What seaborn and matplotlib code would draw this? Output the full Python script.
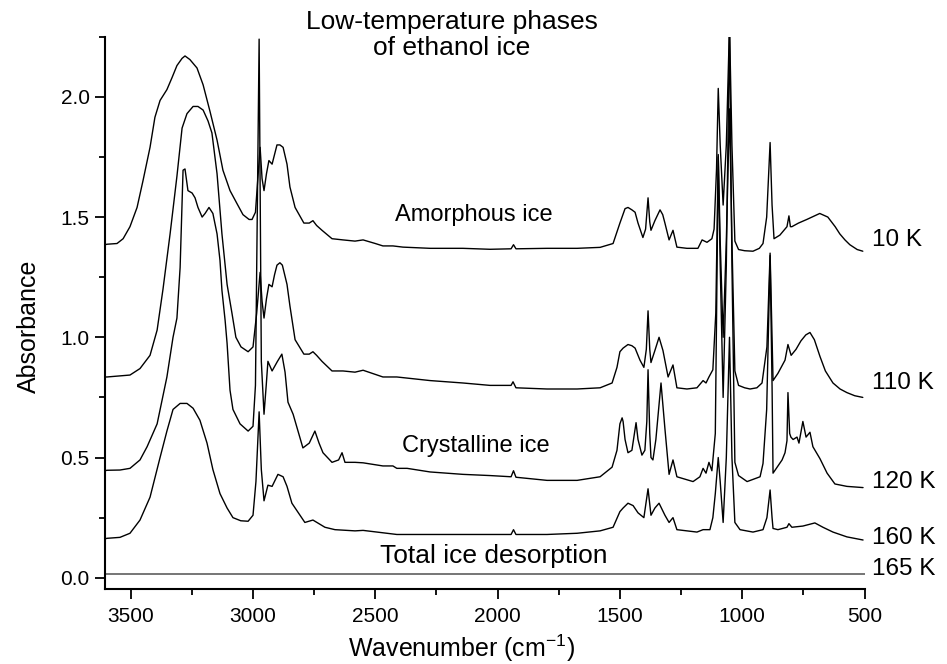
import matplotlib
matplotlib.use("Agg")
import matplotlib.pyplot as plt
from matplotlib import transforms
import numpy as np
import pandas as pd
import seaborn as sns

# ---------------- data (wavenumber in cm^-1, absorbance) ----------------
w_10K = [3605, 3597, 3556, 3531, 3503, 3474, 3450, 3421, 3401, 3380, 3352, 3331, 3311, 3290, 3278,
         3258, 3229, 3204, 3176, 3147, 3123, 3094, 3065, 3041, 3016, 3004, 2990, 2981, 2971, 2963,
         2955, 2945, 2935, 2922, 2912, 2902, 2890, 2877, 2861, 2849, 2828, 2792, 2770, 2755, 2740,
         2718, 2677, 2632, 2583, 2550, 2500, 2469, 2428, 2387, 2276, 2142, 2031, 1945, 1935, 1925,
         1798, 1675, 1581, 1528, 1500, 1479, 1467, 1451, 1438, 1426, 1406, 1395, 1385, 1378, 1373,
         1357, 1336, 1325, 1316, 1299, 1283, 1267, 1226, 1181, 1164, 1144, 1124, 1115, 1105, 1098,
         1090, 1078, 1065, 1052, 1042, 1030, 1015, 990, 956, 930, 915, 900, 886, 878, 870,
         846, 817, 809, 803, 797, 770, 736, 683, 650, 620, 601, 580, 560, 530, 507]
a_10K = [1.385, 1.387, 1.39, 1.41, 1.46, 1.54, 1.65, 1.79, 1.915, 1.985, 2.03, 2.08, 2.13, 2.16, 2.17,
         2.155, 2.12, 2.05, 1.94, 1.82, 1.695, 1.61, 1.555, 1.51, 1.49, 1.49, 1.52, 1.65, 1.79, 1.66,
         1.61, 1.68, 1.735, 1.72, 1.76, 1.80, 1.80, 1.79, 1.72, 1.625, 1.54, 1.475, 1.475, 1.485, 1.465,
         1.445, 1.41, 1.405, 1.40, 1.405, 1.39, 1.38, 1.38, 1.375, 1.37, 1.37, 1.366, 1.368, 1.385, 1.368,
         1.37, 1.37, 1.374, 1.39, 1.475, 1.535, 1.54, 1.53, 1.52, 1.475, 1.415, 1.45, 1.58, 1.48, 1.445,
         1.485, 1.53, 1.51, 1.475, 1.405, 1.445, 1.375, 1.37, 1.37, 1.405, 1.395, 1.41, 1.45, 1.70, 2.035,
         1.80, 1.55, 1.80, 2.30, 1.80, 1.40, 1.365, 1.36, 1.358, 1.37, 1.39, 1.50, 1.81, 1.55, 1.41,
         1.425, 1.46, 1.505, 1.46, 1.46, 1.475, 1.49, 1.515, 1.50, 1.46, 1.43, 1.405, 1.385, 1.365, 1.358]

w_110K = [3605, 3597, 3503, 3462, 3421, 3392, 3368, 3339, 3311, 3290, 3270, 3245, 3225, 3204, 3184,
          3168, 3147, 3127, 3106, 3086, 3070, 3049, 3020, 3000, 2985, 2971, 2963, 2955, 2945, 2935,
          2922, 2912, 2902, 2890, 2880, 2861, 2849, 2828, 2792, 2770, 2755, 2740, 2718, 2677, 2632,
          2583, 2550, 2469, 2412, 2276, 2142, 2031, 1945, 1937, 1925, 1798, 1675, 1581, 1532, 1512,
          1500, 1487, 1467, 1451, 1438, 1418, 1402, 1392, 1385, 1378, 1373, 1357, 1340, 1324, 1303,
          1283, 1267, 1226, 1185, 1160, 1148, 1136, 1120, 1108, 1098, 1090, 1078, 1065, 1052, 1042,
          1030, 1015, 990, 968, 940, 919, 899, 886, 878, 874, 854, 825, 813, 800, 780,
          760, 740, 723, 705, 682, 660, 629, 600, 572, 540, 507]
a_110K = [0.835, 0.835, 0.843, 0.87, 0.925, 1.03, 1.20, 1.43, 1.67, 1.87, 1.93, 1.96, 1.96, 1.945, 1.90,
          1.85, 1.68, 1.43, 1.22, 1.10, 1.00, 0.96, 0.94, 0.96, 1.10, 1.27, 1.15, 1.08, 1.16, 1.22,
          1.21, 1.26, 1.30, 1.31, 1.30, 1.22, 1.13, 0.99, 0.93, 0.93, 0.94, 0.925, 0.90, 0.86, 0.86,
          0.855, 0.863, 0.835, 0.835, 0.82, 0.81, 0.80, 0.80, 0.815, 0.79, 0.785, 0.785, 0.79, 0.81, 0.875,
          0.94, 0.955, 0.97, 0.965, 0.955, 0.905, 0.875, 0.95, 1.11, 0.95, 0.895, 0.945, 1.00, 0.945, 0.835,
          0.885, 0.79, 0.785, 0.79, 0.82, 0.81, 0.835, 0.865, 1.10, 1.76, 1.40, 1.00, 1.40, 1.95, 1.40,
          0.86, 0.80, 0.79, 0.785, 0.79, 0.81, 0.96, 1.35, 1.00, 0.82, 0.85, 0.905, 0.97, 0.925, 0.95,
          0.985, 1.01, 1.02, 0.99, 0.92, 0.86, 0.81, 0.785, 0.77, 0.757, 0.75]

w_120K = [3605, 3597, 3544, 3503, 3462, 3433, 3392, 3352, 3327, 3311, 3298, 3290, 3286, 3278, 3266,
          3249, 3237, 3225, 3208, 3196, 3180, 3164, 3147, 3135, 3127, 3114, 3106, 3094, 3082, 3053,
          3020, 3000, 2990, 2975, 2966, 2955, 2946, 2939, 2922, 2900, 2882, 2869, 2857, 2836, 2796,
          2770, 2747, 2730, 2714, 2677, 2650, 2636, 2624, 2583, 2550, 2469, 2428, 2412, 2370, 2276,
          2142, 2031, 1945, 1935, 1925, 1798, 1675, 1581, 1532, 1512, 1500, 1491, 1487, 1479, 1467,
          1451, 1434, 1426, 1410, 1398, 1390, 1385, 1378, 1373, 1365, 1353, 1332, 1316, 1299, 1283,
          1267, 1201, 1173, 1160, 1148, 1136, 1124, 1110, 1098, 1090, 1078, 1065, 1052, 1042, 1030,
          1015, 980, 927, 915, 900, 886, 878, 874, 837, 825, 817, 813, 806, 801, 792,
          776, 768, 752, 739, 723, 711, 682, 653, 621, 572, 506]
a_120K = [0.445, 0.447, 0.448, 0.455, 0.49, 0.545, 0.64, 0.835, 1.00, 1.08, 1.29, 1.57, 1.695, 1.70, 1.61,
          1.60, 1.58, 1.54, 1.50, 1.515, 1.54, 1.515, 1.43, 1.32, 1.195, 1.07, 0.975, 0.78, 0.70, 0.64,
          0.61, 0.63, 0.80, 2.24, 0.90, 0.68, 0.80, 0.90, 0.86, 0.90, 0.93, 0.855, 0.73, 0.68, 0.54,
          0.56, 0.61, 0.56, 0.52, 0.48, 0.49, 0.52, 0.48, 0.48, 0.478, 0.465, 0.465, 0.455, 0.455, 0.44,
          0.43, 0.425, 0.42, 0.445, 0.418, 0.405, 0.405, 0.42, 0.46, 0.53, 0.64, 0.665, 0.65, 0.575, 0.52,
          0.53, 0.645, 0.575, 0.51, 0.53, 0.65, 0.865, 0.60, 0.50, 0.49, 0.575, 0.81, 0.62, 0.43, 0.49,
          0.42, 0.40, 0.42, 0.455, 0.435, 0.48, 0.445, 0.60, 1.75, 1.30, 0.75, 1.30, 2.30, 1.30, 0.48,
          0.425, 0.40, 0.42, 0.475, 0.70, 1.34, 0.80, 0.435, 0.49, 0.52, 0.57, 0.77, 0.60, 0.585, 0.575,
          0.585, 0.56, 0.65, 0.585, 0.605, 0.545, 0.495, 0.435, 0.39, 0.38, 0.375]

w_160K = [3605, 3597, 3544, 3503, 3462, 3421, 3380, 3352, 3327, 3298, 3270, 3245, 3217, 3188, 3164,
          3135, 3106, 3082, 3050, 3020, 3000, 2988, 2975, 2966, 2955, 2939, 2922, 2898, 2877, 2861,
          2841, 2788, 2755, 2706, 2665, 2583, 2550, 2412, 2276, 2142, 2031, 1945, 1935, 1925, 1798,
          1675, 1581, 1528, 1500, 1487, 1467, 1446, 1426, 1402, 1385, 1373, 1357, 1340, 1316, 1299,
          1283, 1267, 1185, 1160, 1132, 1120, 1110, 1098, 1090, 1078, 1065, 1052, 1042, 1030, 1009,
          956, 915, 899, 886, 878, 874, 854, 817, 809, 797, 752, 703, 670, 629, 572, 506]
a_160K = [0.162, 0.164, 0.168, 0.185, 0.24, 0.335, 0.50, 0.61, 0.70, 0.725, 0.725, 0.705, 0.655, 0.56, 0.45,
          0.35, 0.29, 0.25, 0.237, 0.235, 0.26, 0.40, 0.69, 0.45, 0.32, 0.385, 0.38, 0.43, 0.42, 0.38,
          0.31, 0.23, 0.24, 0.21, 0.20, 0.195, 0.197, 0.18, 0.18, 0.18, 0.18, 0.18, 0.20, 0.18, 0.18,
          0.185, 0.195, 0.21, 0.275, 0.29, 0.31, 0.30, 0.27, 0.25, 0.37, 0.26, 0.29, 0.31, 0.26, 0.23,
          0.25, 0.20, 0.19, 0.20, 0.20, 0.25, 0.35, 0.50, 0.40, 0.23, 0.50, 1.00, 0.50, 0.23, 0.20,
          0.19, 0.20, 0.25, 0.365, 0.25, 0.205, 0.20, 0.21, 0.225, 0.21, 0.215, 0.228, 0.21, 0.19, 0.17, 0.157]

w_165K = [3605, 500]
a_165K = [0.014, 0.014]

spectra = {"10 K": (w_10K, a_10K), "110 K": (w_110K, a_110K),
           "120 K": (w_120K, a_120K), "160 K": (w_160K, a_160K)}
label_y = {"10 K": 1.404, "110 K": 0.81, "120 K": 0.40, "160 K": 0.165, "165 K": 0.036}

phase_labels = ["Amorphous ice", "Crystalline ice", "Total ice desorption"]
phase_x = [2097, 2088, 2015]
phase_y = [1.51, 0.55, 0.09]
phase_size = [17, 17, 19]

x_major = [3500, 3000, 2500, 2000, 1500, 1000, 500]
x_minor = [3250, 2750, 2250, 1750, 1250, 750]
y_major = [0.0, 0.5, 1.0, 1.5, 2.0]
y_minor = [0.25, 0.75, 1.25, 1.75, 2.25]

# ---------------- plotting ----------------
sns.set_theme(style="ticks")
plt.rcParams["font.family"] = ["Liberation Sans", "DejaVu Sans"]
plt.rcParams["mathtext.fontset"] = "custom"
plt.rcParams["mathtext.rm"] = "Liberation Sans"
plt.rcParams["mathtext.it"] = "Liberation Sans:italic"

rows = []
for name, (w, a) in spectra.items():
    rows.append(pd.DataFrame({"wavenumber": w, "absorbance": a, "spectrum": name}))
df = pd.concat(rows, ignore_index=True)
df165 = pd.DataFrame({"wavenumber": w_165K, "absorbance": a_165K, "spectrum": "165 K"})

fig = plt.figure(figsize=(9.47, 6.64), dpi=100)
ax = fig.add_axes([0.1109, 0.1125, 0.8020, 0.8322])

sns.lineplot(data=df, x="wavenumber", y="absorbance", hue="spectrum",
             palette={k: "black" for k in spectra}, estimator=None, sort=False,
             legend=False, linewidth=1.0, ax=ax)
sns.lineplot(data=df165, x="wavenumber", y="absorbance", color="#6a6a6a",
             estimator=None, sort=False, legend=False, linewidth=1.3, ax=ax)

ax.set_xlim(3605, 500)
ax.set_ylim(-0.048, 2.25)
sns.despine(ax=ax)
for s in ("left", "bottom"):
    ax.spines[s].set_linewidth(1.5)
    ax.spines[s].set_color("black")

ax.set_xticks(x_major)
ax.set_xticks(x_minor, minor=True)
ax.set_yticks(y_major)
ax.set_yticks(y_minor, minor=True)
ax.set_yticklabels([f"{v:.1f}" for v in y_major])
ax.set_xticklabels([str(v) for v in x_major])
ax.tick_params(which="major", direction="out", length=7, width=1.3, labelsize=15,
               colors="black")
ax.tick_params(axis="x", which="major", pad=6)
ax.tick_params(axis="y", which="major", pad=4)
ax.tick_params(which="minor", direction="out", length=4.3, width=1.3, colors="black")

ax.set_xlabel("Wavenumber (cm$^{-1}$)", fontsize=18, color="black")
ax.set_ylabel("Absorbance", fontsize=18, color="black")
ax.xaxis.set_label_coords(0.470, -0.078)
ax.yaxis.set_label_coords(-0.085, 0.476)

trans = transforms.blended_transform_factory(ax.transAxes, ax.transData)
for name, yv in label_y.items():
    ax.text(1.0105, yv, name, transform=trans, ha="left", va="center",
            fontsize=17.5, color="black", clip_on=False)

for txt, xv, yv, fs in zip(phase_labels, phase_x, phase_y, phase_size):
    ax.text(xv, yv, txt, ha="center", va="center", fontsize=fs, color="black")

fig.text(452 / 947, 1 - 10 / 664, "Low-temperature phases\nof ethanol ice",
         ha="center", va="top", fontsize=19, linespacing=1.1, color="black")

fig.savefig("out.png", dpi=100, facecolor="white")
